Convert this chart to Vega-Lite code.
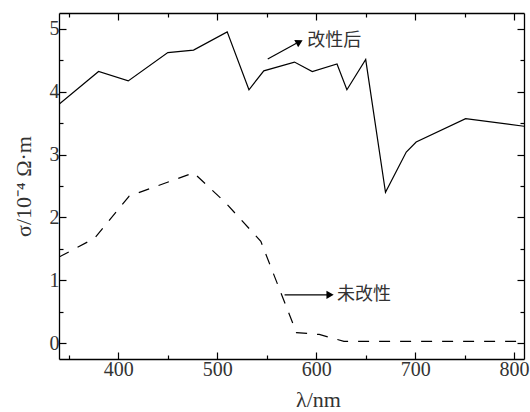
{
  "$schema": "https://vega.github.io/schema/vega-lite/v6.json",
  "width": 465,
  "height": 346,
  "autosize": "none",
  "padding": {"left": 59, "top": 13, "right": 6, "bottom": 53},
  "background": "white",
  "config": {
    "view": {"stroke": null},
    "font": "Liberation Serif",
    "axis": {
      "grid": false,
      "domainColor": "#000",
      "domainWidth": 1.3,
      "tickColor": "#000",
      "tickWidth": 1.2
    }
  },
  "datasets": {
    "solid": [
      {"wl": 340, "sigma": 3.80},
      {"wl": 380, "sigma": 4.32},
      {"wl": 410, "sigma": 4.17},
      {"wl": 450, "sigma": 4.62},
      {"wl": 476, "sigma": 4.66},
      {"wl": 510, "sigma": 4.95},
      {"wl": 532, "sigma": 4.03},
      {"wl": 547, "sigma": 4.33},
      {"wl": 578, "sigma": 4.47},
      {"wl": 596, "sigma": 4.32},
      {"wl": 621, "sigma": 4.44},
      {"wl": 631, "sigma": 4.03},
      {"wl": 650, "sigma": 4.51},
      {"wl": 670, "sigma": 2.40},
      {"wl": 691, "sigma": 3.04},
      {"wl": 701, "sigma": 3.20},
      {"wl": 751, "sigma": 3.57},
      {"wl": 810, "sigma": 3.45}
    ],
    "dashed": [
      {"wl": 340, "sigma": 1.37},
      {"wl": 376, "sigma": 1.67},
      {"wl": 411, "sigma": 2.34},
      {"wl": 476, "sigma": 2.71},
      {"wl": 508, "sigma": 2.24},
      {"wl": 544, "sigma": 1.62},
      {"wl": 580, "sigma": 0.17},
      {"wl": 603, "sigma": 0.14},
      {"wl": 628, "sigma": 0.03},
      {"wl": 810, "sigma": 0.03}
    ],
    "arrows": [
      {"id": "a1", "wl": 551, "sigma": 4.52, "wl2": 580, "sigma2": 4.77},
      {"id": "a2", "wl": 568, "sigma": 0.77, "wl2": 611, "sigma2": 0.77}
    ],
    "heads": [
      {"id": "a1", "wl": 583, "sigma": 4.79},
      {"id": "a2", "wl": 614, "sigma": 0.77}
    ],
    "labels": [
      {"text": "改性后", "wl": 591, "sigma": 4.80},
      {"text": "未改性", "wl": 621, "sigma": 0.77}
    ]
  },
  "layer": [
    {
      "data": {"name": "solid"},
      "mark": {"type": "line", "color": "#000", "strokeWidth": 1.2, "clip": true},
      "encoding": {
        "x": {
          "field": "wl", "type": "quantitative",
          "scale": {"domain": [340, 810], "nice": false, "zero": false},
          "axis": {
            "orient": "bottom",
            "title": "λ/nm",
            "titleFont": "Liberation Serif",
            "titleFontSize": 22,
            "titleFontWeight": "normal",
            "titleColor": "#333",
            "titleX": 259,
            "titleY": 40,
            "titleAlign": "center",
            "titleBaseline": "middle",
            "values": [350, 400, 450, 500, 550, 600, 650, 700, 750, 800],
            "labelExpr": "datum.value % 100 === 0 ? format(datum.value, 'd') : ''",
            "labelFont": "Liberation Serif",
            "labelFontSize": 20,
            "labelColor": "#333",
            "tickSize": {"condition": {"test": "datum.value % 100 === 0", "value": -7}, "value": -4},
            "labelPadding": 7
          }
        },
        "y": {
          "field": "sigma", "type": "quantitative",
          "scale": {"domain": [-0.25, 5.25], "nice": false, "zero": false},
          "axis": {
            "orient": "left",
            "title": "σ/10⁻⁴  Ω·m",
            "titleFont": "Liberation Serif",
            "titleFontSize": 22,
            "titleFontWeight": "normal",
            "titleColor": "#333",
            "titlePadding": 14,
            "values": [0, 0.5, 1, 1.5, 2, 2.5, 3, 3.5, 4, 4.5, 5],
            "labelExpr": "datum.value % 1 === 0 ? format(datum.value, 'd') : ''",
            "labelFont": "Liberation Serif",
            "labelFontSize": 20,
            "labelColor": "#333",
            "tickSize": {"condition": {"test": "datum.value % 1 === 0", "value": -7}, "value": -4},
            "labelPadding": 7
          }
        }
      }
    },
    {
      "data": {"name": "dashed"},
      "mark": {"type": "line", "color": "#000", "strokeWidth": 1.2, "strokeDash": [11, 10], "clip": true},
      "encoding": {
        "x": {
          "field": "wl", "type": "quantitative",
          "scale": {"domain": [340, 810], "nice": false, "zero": false},
          "axis": {
            "orient": "top",
            "title": null,
            "labels": false,
            "values": [350, 400, 450, 500, 550, 600, 650, 700, 750, 800],
            "tickSize": {"condition": {"test": "datum.value % 100 === 0", "value": -7}, "value": -4}
          }
        },
        "y": {
          "field": "sigma", "type": "quantitative",
          "scale": {"domain": [-0.25, 5.25], "nice": false, "zero": false},
          "axis": {
            "orient": "right",
            "title": null,
            "labels": false,
            "values": [0, 0.5, 1, 1.5, 2, 2.5, 3, 3.5, 4, 4.5, 5],
            "tickSize": {"condition": {"test": "datum.value % 1 === 0", "value": -7}, "value": -4}
          }
        }
      }
    },
    {
      "data": {"name": "arrows"},
      "mark": {"type": "rule", "color": "#000", "strokeWidth": 1.2},
      "encoding": {
        "x": {"field": "wl", "type": "quantitative", "scale": {"domain": [340, 810], "nice": false, "zero": false}, "axis": null},
        "y": {"field": "sigma", "type": "quantitative", "scale": {"domain": [-0.25, 5.25], "nice": false, "zero": false}, "axis": null},
        "x2": {"field": "wl2"},
        "y2": {"field": "sigma2"}
      }
    },
    {
      "data": {"name": "heads"},
      "transform": [{"filter": "datum.id === 'a1'"}],
      "mark": {"type": "point", "shape": "triangle-right", "filled": true, "color": "#000", "opacity": 1, "size": 70, "angle": 332},
      "encoding": {
        "x": {"field": "wl", "type": "quantitative", "scale": {"domain": [340, 810], "nice": false, "zero": false}, "axis": null},
        "y": {"field": "sigma", "type": "quantitative", "scale": {"domain": [-0.25, 5.25], "nice": false, "zero": false}, "axis": null}
      }
    },
    {
      "data": {"name": "heads"},
      "transform": [{"filter": "datum.id === 'a2'"}],
      "mark": {"type": "point", "shape": "triangle-right", "filled": true, "color": "#000", "opacity": 1, "size": 70, "angle": 0},
      "encoding": {
        "x": {"field": "wl", "type": "quantitative", "scale": {"domain": [340, 810], "nice": false, "zero": false}, "axis": null},
        "y": {"field": "sigma", "type": "quantitative", "scale": {"domain": [-0.25, 5.25], "nice": false, "zero": false}, "axis": null}
      }
    },
    {
      "data": {"name": "labels"},
      "mark": {"type": "text", "align": "left", "baseline": "middle", "font": "Noto Sans CJK SC", "fontSize": 18, "color": "#333"},
      "encoding": {
        "x": {"field": "wl", "type": "quantitative", "scale": {"domain": [340, 810], "nice": false, "zero": false}, "axis": null},
        "y": {"field": "sigma", "type": "quantitative", "scale": {"domain": [-0.25, 5.25], "nice": false, "zero": false}, "axis": null},
        "text": {"field": "text"}
      }
    }
  ],
  "resolve": {"axis": {"x": "independent", "y": "independent"}}
}
